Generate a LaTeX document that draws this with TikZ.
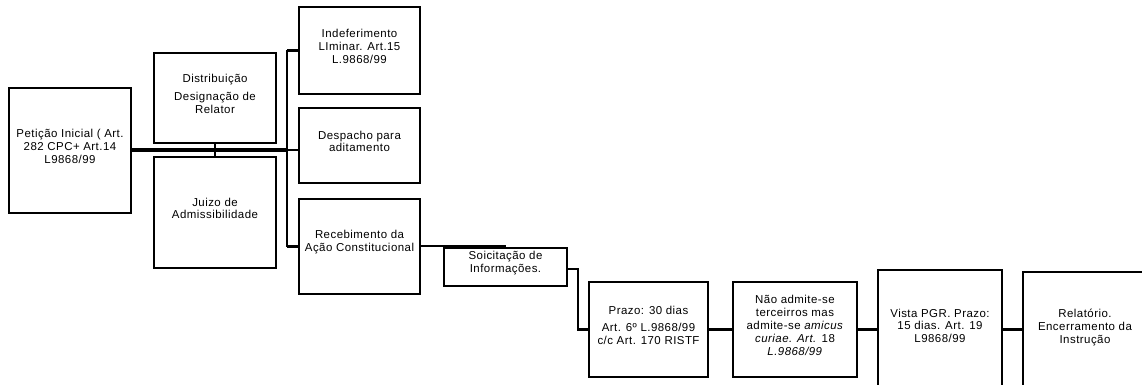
\documentclass[tikz,border=0pt]{standalone}
\usepackage{fontspec}
\setmainfont{Liberation Sans}[LetterSpace=4]
\usetikzlibrary{fit}
\begin{document}
\begin{tikzpicture}[x=0.75pt,y=-0.75pt,
  box/.style={draw, line width=1.9pt, inner sep=0pt, align=center,
    font=\fontsize{8.6}{9.6}\selectfont},
  conn/.style={line width=1.6pt},
  mainconn/.style={line width=2.3pt}]
\useasboundingbox (0,0) rectangle (1142,385);
\begin{scope}
\clip (0,0) rectangle (1142,385);
\node[box, fit={(9,88) (131,213)}] (pet) {Petição Inicial ( Art.\\282 CPC+ Art.14\\L9868/99};
\node[box, fit={(154,53) (276,143)}] (dist) {Distribuição\\[4pt]Designação de\\Relator};
\node[box, fit={(154,157) (276,268)}] (juizo) {Juizo de\\Admissibilidade};
\node[box, fit={(299,7) (420,94)}] (indef) {Indeferimento\\LIminar. Art.15\\L.9868/99};
\node[box, fit={(299,108) (420,183)}] (desp) {Despacho para\\aditamento};
\node[box, fit={(299,199) (420,294)}] (receb) {Recebimento da\\Ação Constitucional};
\node[box, fit={(444,248) (567,286)}] (soic) {Soicitação de\\Informações.};
\node[box, fit={(589,282) (708,377)}] (prazo) {Prazo: 30 dias\\[3pt]Art. 6º L.9868/99\\c/c Art. 170 RISTF};
\node[box, fit={(733,282) (857,377)}] (nao) {Não admite-se\\terceirros mas\\admite-se \textit{amicus}\\\textit{curiae. Art.} 18\\\textit{L.9868/99}};
\node[box, fit={(878,270) (1002,390)}] (vista) {Vista PGR. Prazo:\\15 dias. Art. 19\\L9868/99};
\node[box, fit={(1023,272) (1147,392)}] (rel) {Relatório.\\Encerramento da\\Instrução};

\coordinate (bus) at (287,150);
\coordinate (tick) at (215,150);
\coordinate (recend) at (506,246);
\coordinate (sbend) at (578,269);

\draw[mainconn] (pet.east |- bus) -- (bus);
\draw[conn] (tick) -- (tick |- dist.south);
\draw[conn] (tick) -- (tick |- juizo.north);
\draw[conn] (bus |- indef.west) coordinate (bt) -- (bus |- receb.west) coordinate (bb);
\draw[conn] (bt) -- (indef.west |- bt);
\draw[conn] (bus) -- (desp.west |- bus);
\draw[conn] (bb) -- (receb.west |- bb);
\draw[conn] (receb.east |- recend) -- (recend);
\draw[conn] (soic.east |- sbend) -- (sbend) |- (prazo.west);
\draw[conn] (prazo.east) -- (nao.west);
\draw[conn] (nao.east) -- (vista.west |- nao.east);
\draw[conn] (vista.east |- nao.east) -- (rel.west |- nao.east);
\end{scope}
\end{tikzpicture}
\end{document}
